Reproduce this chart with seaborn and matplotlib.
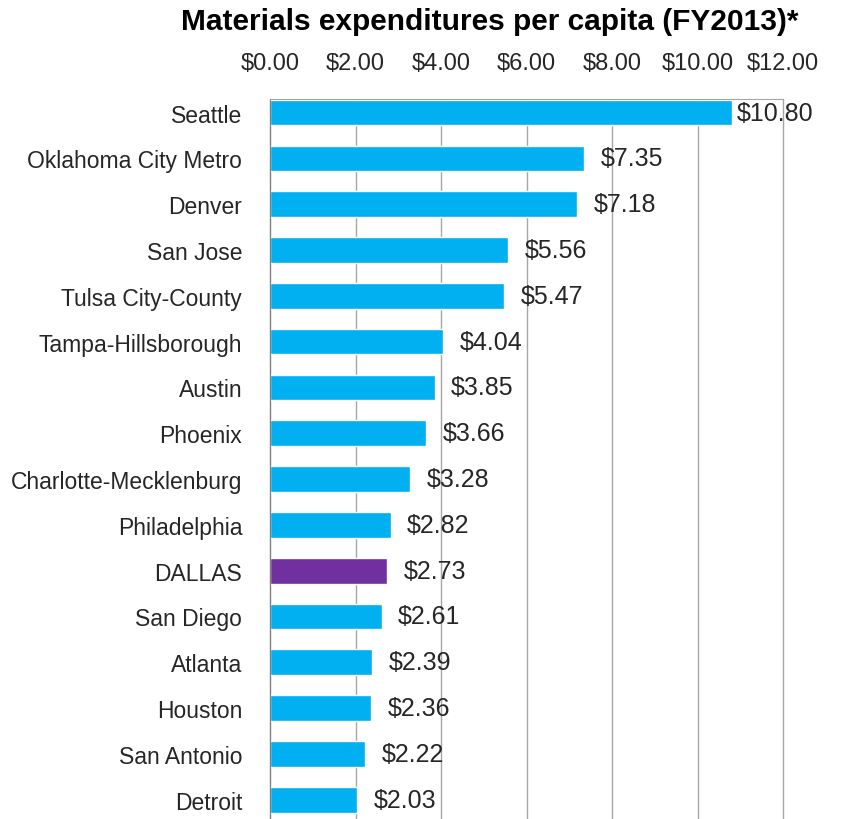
import matplotlib
matplotlib.use("Agg")
import matplotlib.pyplot as plt
import seaborn as sns
import pandas as pd

cities = ["Seattle", "Oklahoma City Metro", "Denver", "San Jose", "Tulsa City-County",
          "Tampa-Hillsborough", "Austin", "Phoenix", "Charlotte-Mecklenburg", "Philadelphia",
          "DALLAS", "San Diego", "Atlanta", "Houston", "San Antonio", "Detroit"]
values = [10.80, 7.35, 7.18, 5.56, 5.47, 4.04, 3.85, 3.66, 3.28, 2.82,
          2.73, 2.61, 2.39, 2.36, 2.22, 2.03]
ticks = [0, 2, 4, 6, 8, 10, 12]

df = pd.DataFrame({"city": cities, "value": values})
palette = {c: ("#7030A0" if c == "DALLAS" else "#00B0F0") for c in cities}

sns.set_style("white")
plt.rcParams["font.family"] = ["Liberation Sans", "DejaVu Sans"]

fig = plt.figure(figsize=(8.42, 8.2), dpi=100)
ax = fig.add_axes([270 / 842, 0.0, 513 / 842, 720 / 820])

sns.barplot(data=df, x="value", y="city", hue="city", palette=palette,
            width=0.56, legend=False, ax=ax, saturation=1)

ax.set_xlim(0, 12)
ax.set_ylim(15.42, -0.295)
ax.set_xticks(ticks)
ax.set_xticklabels([f"${t:.2f}" for t in ticks], fontsize=17, color="#262626")
ax.xaxis.tick_top()
ax.tick_params(axis="x", length=0, pad=18)
ax.tick_params(axis="y", length=0, pad=20, labelsize=16.5, labelcolor="#262626")
ax.set_xlabel("")
ax.set_ylabel("")
ax.grid(axis="x", color="#A6A6A6", linewidth=1, clip_on=False)
ax.set_axisbelow(True)
for s in ["right", "bottom"]:
    ax.spines[s].set_visible(False)
ax.spines["top"].set_color("#A6A6A6")
ax.spines["left"].set_color("#7F7F7F")

for i, v in enumerate(values):
    off = 4 if v > 10 else 12
    ax.annotate(f"${v:.2f}", (v, i), xytext=(off, 0), textcoords="offset points",
                va="center", ha="left", fontsize=18, color="#262626")

fig.text(490 / 842, 1 - 22 / 820, "Materials expenditures per capita (FY2013)*",
         ha="center", va="center", fontsize=21.5, fontweight="bold", color="black")

fig.savefig("out.png", dpi=100)
plt.close(fig)
